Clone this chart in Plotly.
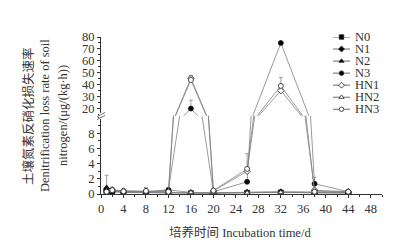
import plotly.graph_objects as go

# ---------------- data ----------------
days = [1, 2, 4, 8, 12, 16, 20, 26, 32, 38, 44]
series_names = ["N0", "N1", "N2", "N3", "HN1", "HN2", "HN3"]
N0 = [0.40, 0.30, 0.20, 0.15, 0.15, 0.10, 0.10, 0.15, 0.20, 0.15, 0.10]
N1 = [0.50, 0.35, 0.25, 0.20, 0.20, 0.15, 0.10, 0.20, 0.25, 0.20, 0.15]
N2 = [0.87, 0.40, 0.30, 0.20, 0.55, 0.20, 0.15, 0.25, 0.30, 0.25, 0.20]
N3 = [0.60, 0.40, 0.40, 0.30, 0.55, 20.0, 0.30, 1.60, 75.0, 1.35, 0.30]
HN1 = [0.30, 0.55, 0.40, 0.35, 0.25, 45.5, 0.40, 3.00, 35.0, 0.50, 0.30]
HN2 = [0.25, 0.45, 0.30, 0.30, 0.20, 0.20, 0.20, 0.15, 0.20, 0.20, 0.25]
HN3 = [0.30, 0.50, 0.35, 0.40, 0.30, 44.0, 0.45, 3.30, 39.0, 0.30, 0.30]
# upward error bars
N0_err = [0.1, 0.05, 0.05, 0.05, 0.05, 0.05, 0.05, 0.05, 0.05, 0.05, 0.05]
N1_err = [0.1, 0.05, 0.05, 0.05, 0.05, 0.05, 0.05, 0.05, 0.05, 0.05, 0.05]
N2_err = [1.6, 0.10, 0.05, 0.05, 0.10, 0.05, 0.05, 0.05, 0.05, 0.05, 0.05]
N3_err = [0.2, 0.10, 0.10, 0.10, 0.10, 7.00, 0.10, 0.30, 1.00, 0.85, 0.10]
HN1_err = [0.1, 0.35, 0.10, 0.45, 0.10, 2.00, 0.10, 0.50, 2.00, 0.20, 0.10]
HN2_err = [0.1, 0.10, 0.05, 0.10, 0.05, 0.05, 0.05, 0.05, 0.05, 0.05, 0.05]
HN3_err = [0.1, 0.30, 0.10, 0.40, 0.10, 3.50, 0.10, 2.00, 7.00, 0.20, 0.10]

x_ticks = list(range(0, 49, 4))
y_low_ticks = [0, 2, 4, 6, 8]
y_high_ticks = [20, 30, 40, 50, 60, 70, 80]
y_title_lines = ["土壤氮素反硝化损失速率", "Denitrification loss rate of soil",
                 "nitrogen/(μg/(kg·h))"]
x_title = "培养时间 Incubation time/d"

values = [N0, N1, N2, N3, HN1, HN2, HN3]
errors = [N0_err, N1_err, N2_err, N3_err, HN1_err, HN2_err, HN3_err]
symbols = ["square", "diamond", "triangle-up", "circle",
           "diamond-open", "triangle-up-open", "circle-open"]
fills = ["#000", "#000", "#000", "#000", "#fff", "#fff", "#fff"]

FONT = "Liberation Serif, Times New Roman, Noto Sans CJK SC, serif"
TXT = "#333333"
LINE = "#808080"

fig = go.Figure()

for name, v, e, sym, fc in zip(series_names, values, errors, symbols, fills):
    for xa, ya in (("x", "y"), ("x2", "y2")):
        fig.add_trace(go.Scatter(
            x=days, y=v, xaxis=xa, yaxis=ya, name=name, showlegend=False,
            mode="lines+markers",
            line=dict(color=LINE, width=0.8),
            marker=dict(symbol=sym.replace("-open", ""), size=5, color=fc,
                        line=dict(color="#222", width=0.8)),
            error_y=dict(type="data", array=e, arrayminus=[0] * len(e),
                         color="#888", thickness=0.8, width=2),
        ))

# manual compact legend (sample line + marker per series)
for i, (name, sym, fc) in enumerate(zip(series_names, symbols, fills)):
    fig.add_trace(go.Scatter(x=[0, 1], y=[i, i], xaxis="x3", yaxis="y3",
                             mode="lines", line=dict(color="#444", width=0.8),
                             showlegend=False, hoverinfo="skip"))
    fig.add_trace(go.Scatter(x=[0.5], y=[i], xaxis="x3", yaxis="y3",
                             mode="markers", cliponaxis=False,
                             marker=dict(symbol=sym.replace("-open", ""), size=4.5,
                                         color=fc, line=dict(color="#222", width=0.8)),
                             showlegend=False, hoverinfo="skip"))

L, R, T, B = 101, 20, 37, 48
W, H = 402, 242
pw, ph = W - L - R, H - T - B
split = 78.3 / ph

def px2x(px):
    return (px - L) / pw

def py2y(py):
    return (H - B - py) / ph

annotations = []
for i, name in enumerate(series_names):
    annotations.append(dict(
        x=px2x(353), y=py2y(37 + 12 * i), xref="paper", yref="paper",
        text=name, showarrow=False, xanchor="left", yanchor="middle",
        font=dict(family=FONT, size=12.5, color=TXT)))

for cx, line in zip([28, 45, 63], y_title_lines):
    annotations.append(dict(
        x=px2x(cx), y=py2y(116), xref="paper", yref="paper",
        text=line, showarrow=False, textangle=-90,
        xanchor="center", yanchor="middle",
        font=dict(family=FONT, size=12.5, color=TXT)))
annotations.append(dict(
    x=px2x(240), y=py2y(232), xref="paper", yref="paper",
    text=x_title, showarrow=False,
    xanchor="center", yanchor="middle",
    font=dict(family=FONT, size=12.5, color=TXT)))

shapes = [
    dict(type="rect", xref="paper", yref="paper",
         x0=px2x(99), x1=px2x(103), y0=py2y(119), y1=py2y(113),
         fillcolor="white", line=dict(width=0), layer="above"),
    dict(type="line", xref="paper", yref="paper",
         x0=px2x(97), y0=py2y(116.5), x1=px2x(105), y1=py2y(112.5),
         line=dict(color="#444", width=0.8), layer="above"),
    dict(type="line", xref="paper", yref="paper",
         x0=px2x(97), y0=py2y(119.5), x1=px2x(105), y1=py2y(115.5),
         line=dict(color="#444", width=0.8), layer="above"),
]

axis_common = dict(showgrid=False, zeroline=False, showline=True,
                   linecolor="#333", linewidth=1, ticks="outside",
                   ticklen=3, tickcolor="#333",
                   tickfont=dict(family=FONT, size=12.5, color=TXT))

fig.update_layout(
    width=W, height=H, margin=dict(l=L, r=R, t=T, b=B),
    plot_bgcolor="white", paper_bgcolor="white", showlegend=False,
    xaxis=dict(range=[0, 50], tickvals=x_ticks, anchor="y",
               minor=dict(dtick=2, tick0=0, ticks="outside", ticklen=2, tickcolor="#333"),
               **axis_common),
    xaxis2=dict(range=[0, 50], matches="x", anchor="y2", visible=False),
    yaxis=dict(domain=[0, split], range=[0, 10.3], tickvals=y_low_ticks,
               anchor="x",
               minor=dict(dtick=1, tick0=0, ticks="outside", ticklen=2, tickcolor="#333"),
               **axis_common),
    yaxis2=dict(domain=[split, 1], range=[14, 80], tickvals=y_high_ticks,
                anchor="x2",
                minor=dict(dtick=5, tick0=0, ticks="outside", ticklen=2, tickcolor="#333"),
                **axis_common),
    xaxis3=dict(domain=[px2x(333), px2x(350)], range=[0, 1], visible=False,
                fixedrange=True),
    yaxis3=dict(domain=[0.45, 1], range=[(H - B - 0.45 * ph - 37.3) / 12.0, 0],
                visible=False, fixedrange=True, anchor="x3"),
    annotations=annotations,
    shapes=shapes,
)

fig.write_html("out.html", config={"displayModeBar": False},
               post_script="document.body.style.margin='0';"
                           "document.body.style.padding='0';")
